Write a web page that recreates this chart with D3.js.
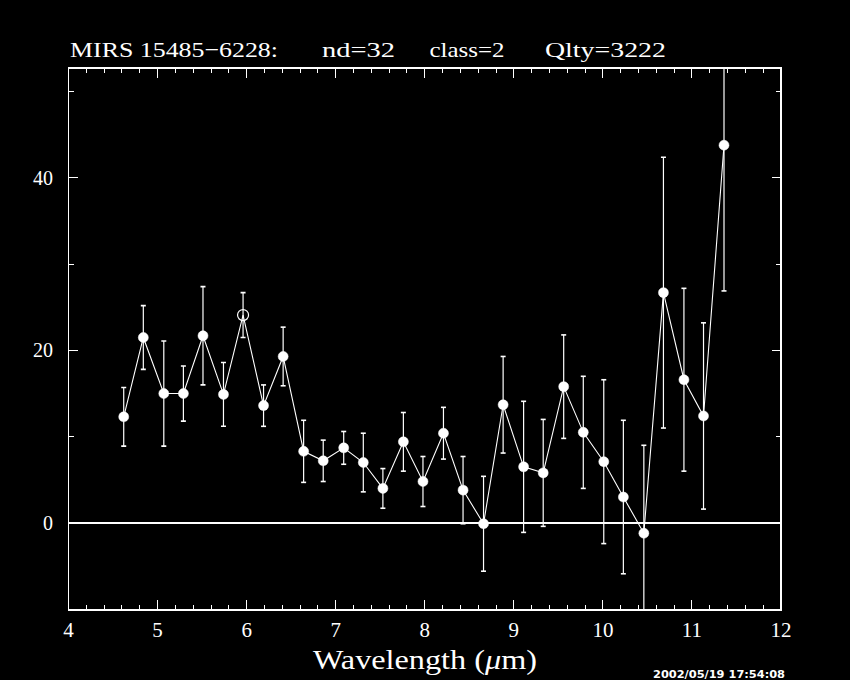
<!DOCTYPE html>
<html>
<head>
<meta charset="utf-8">
<script src="https://cdn.jsdelivr.net/npm/d3@7"></script>
<style>
  html, body { margin: 0; padding: 0; background: #000; }
  svg { display: block; }
  text { fill: #fff; font-family: "Liberation Serif", "DejaVu Serif", serif; }
</style>
</head>
<body>
<svg id="chart" width="850" height="680"></svg>
<script>
// spectrum points
var wavelength = [4.62, 4.84, 5.07, 5.29, 5.51, 5.74, 5.96, 6.19, 6.41, 6.64,
                  6.86, 7.09, 7.31, 7.53, 7.76, 7.98, 8.21, 8.43, 8.66, 8.88,
                  9.11, 9.33, 9.56, 9.78, 10.01, 10.23, 10.46, 10.68, 10.91, 11.13, 11.36];
var flux = [12.3, 21.5, 15.0, 15.0, 21.7, 14.9, 24.1, 13.6, 19.3, 8.3,
            7.2, 8.7, 7.0, 4.0, 9.4, 4.8, 10.4, 3.8, -0.1, 13.7,
            6.5, 5.8, 15.8, 10.5, 7.1, 3.0, -1.2, 26.7, 16.6, 12.4, 43.8];
var err = [3.4, 3.7, 6.1, 3.2, 5.7, 3.7, 2.6, 2.4, 3.4, 3.6,
           2.4, 1.9, 3.4, 2.3, 3.4, 2.9, 3.0, 3.9, 5.5, 5.6,
           7.6, 6.2, 6.0, 6.5, 9.5, 8.9, 10.2, 15.7, 10.6, 10.8, 16.9];
// points drawn as open circles
var openPts = [6];

var xTicks = [4, 5, 6, 7, 8, 9, 10, 11, 12];
var yTicks = [0, 20, 40];
var yMinor = [-10, 10, 30, 50];

var titleParts = ["MIRS 15485\u22126228:", "nd=32", "class=2", "Qlty=3222"];
var xLabel = "Wavelength (";
var stamp = "2002/05/19 17:54:08";

var svg = d3.select("#chart");

var x = d3.scaleLinear().domain([4, 12]).range([68.5, 781]);
var y = d3.scaleLinear().domain([-10.1, 52.75]).range([610, 68]);

var data = wavelength.map(function(w, i) {
  return {x: w, y: flux[i], e: err[i], open: openPts.indexOf(i) >= 0};
});

svg.append("defs").append("clipPath").attr("id", "clip")
  .append("rect")
    .attr("x", x(4)).attr("y", y(52.75))
    .attr("width", x(12) - x(4)).attr("height", y(-10.1) - y(52.75));

// frame and ticks
var frame = svg.append("g").attr("stroke", "#fff").attr("shape-rendering", "crispEdges");
frame.append("rect")
    .attr("x", x(4)).attr("y", y(52.75))
    .attr("width", x(12) - x(4)).attr("height", y(-10.1) - y(52.75))
    .attr("fill", "none").attr("stroke-width", 1.3);

var xMinor = d3.range(40, 121, 2).map(function(d) { return d / 10; });
xMinor.forEach(function(v) {
  var major = Math.abs(v - Math.round(v)) < 1e-6;
  var len = major ? 10 : 5;
  frame.append("line").attr("x1", x(v)).attr("x2", x(v))
    .attr("y1", y(-10.1)).attr("y2", y(-10.1) - len);
  frame.append("line").attr("x1", x(v)).attr("x2", x(v))
    .attr("y1", y(52.75)).attr("y2", y(52.75) + len);
});
yTicks.concat(yMinor).forEach(function(v) {
  var len = yTicks.indexOf(v) >= 0 ? 9 : 5;
  frame.append("line").attr("x1", x(4)).attr("x2", x(4) + len)
    .attr("y1", y(v)).attr("y2", y(v));
  frame.append("line").attr("x1", x(12)).attr("x2", x(12) - len)
    .attr("y1", y(v)).attr("y2", y(v));
});

// zero line
svg.append("line")
    .attr("x1", x(4)).attr("x2", x(12))
    .attr("y1", y(0)).attr("y2", y(0))
    .attr("stroke", "#fff").attr("stroke-width", 2);

// tick labels
svg.selectAll(".xt").data(xTicks).enter().append("text")
    .attr("x", function(d) { return x(d); })
    .attr("y", 637)
    .attr("text-anchor", "middle")
    .style("font-size", "21px")
    .text(function(d) { return d; });
svg.selectAll(".yt").data(yTicks).enter().append("text")
    .attr("x", 53)
    .attr("y", function(d) { return y(d) + 7; })
    .attr("text-anchor", "end")
    .style("font-size", "20px")
    .text(function(d) { return d; });

var plot = svg.append("g").attr("clip-path", "url(#clip)");

// error bars
var eb = plot.selectAll(".eb").data(data).enter().append("g").attr("stroke", "#fff");
eb.append("line")
    .attr("x1", function(d) { return x(d.x); }).attr("x2", function(d) { return x(d.x); })
    .attr("y1", function(d) { return y(d.y - d.e); }).attr("y2", function(d) { return y(d.y + d.e); })
    .attr("stroke-width", 1.2);
eb.append("line")
    .attr("x1", function(d) { return x(d.x) - 2.5; }).attr("x2", function(d) { return x(d.x) + 2.5; })
    .attr("y1", function(d) { return y(d.y + d.e); }).attr("y2", function(d) { return y(d.y + d.e); })
    .attr("stroke-width", 1.6);
eb.append("line")
    .attr("x1", function(d) { return x(d.x) - 2.5; }).attr("x2", function(d) { return x(d.x) + 2.5; })
    .attr("y1", function(d) { return y(d.y - d.e); }).attr("y2", function(d) { return y(d.y - d.e); })
    .attr("stroke-width", 1.6);

// connecting line
plot.append("path")
    .datum(data)
    .attr("fill", "none")
    .attr("stroke", "#fff")
    .attr("stroke-width", 1.1)
    .attr("d", d3.line().x(function(d) { return x(d.x); }).y(function(d) { return y(d.y); }));

plot.selectAll(".pt").data(data).enter().append("circle")
    .attr("cx", function(d) { return x(d.x); })
    .attr("cy", function(d) { return y(d.y); })
    .attr("r", function(d) { return d.open ? 5.5 : 5; })
    .attr("fill", function(d) { return d.open ? "none" : "#fff"; })
    .attr("stroke", "#fff")
    .attr("stroke-width", function(d) { return d.open ? 1.2 : 0.5; });

// title
var tpos = [[70, 208], [322, 73], [429.5, 75], [545, 121]];
titleParts.forEach(function(t, i) {
  svg.append("text")
      .attr("x", tpos[i][0]).attr("y", 57)
      .attr("textLength", tpos[i][1]).attr("lengthAdjust", "spacingAndGlyphs")
      .style("font-size", "22px")
      .text(t);
});

// x axis label
var xl = svg.append("text")
    .attr("x", 313).attr("y", 668.5)
    .attr("textLength", 224).attr("lengthAdjust", "spacingAndGlyphs")
    .style("font-size", "27px");
xl.append("tspan").text(xLabel);
xl.append("tspan").style("font-style", "italic").text("\u03bc");
xl.append("tspan").text("m)");

// time stamp in the bottom corner
svg.append("text")
    .attr("x", 653).attr("y", 678)
    .attr("textLength", 132).attr("lengthAdjust", "spacingAndGlyphs")
    .style("font-family", "DejaVu Sans, sans-serif")
    .style("font-weight", "bold")
    .style("font-size", "10px")
    .text(stamp);
</script>
</body>
</html>
